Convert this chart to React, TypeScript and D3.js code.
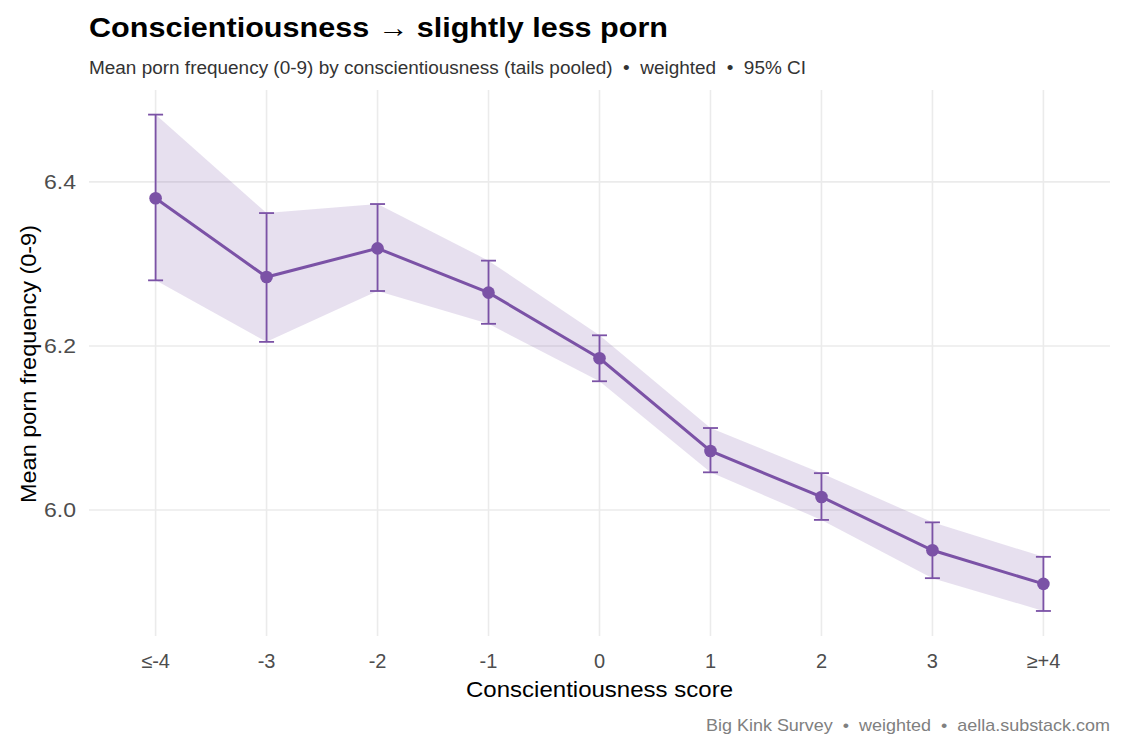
import React from "react";
import * as d3 from "d3";

const categories = ["≤-4", "-3", "-2", "-1", "0", "1", "2", "3", "≥+4"];
const means = [6.380, 6.284, 6.319, 6.265, 6.185, 6.072, 6.016, 5.951, 5.910];
const lower = [6.280, 6.205, 6.267, 6.227, 6.157, 6.046, 5.988, 5.917, 5.877];
const upper = [6.482, 6.362, 6.373, 6.304, 6.213, 6.100, 6.045, 5.985, 5.943];
const yTicks = [6.0, 6.2, 6.4];

const W = 1125, H = 750;
const PL = 89, PR = 1110, PT = 90, PB = 636;
const COLOR = "#7b52a6";
const FONT = "'Liberation Sans', Arial, sans-serif";
const pre = { whiteSpace: "pre" as const };

export default function App() {
  const x = d3.scalePoint<string>().domain(categories).range([PL, PR]).padding(0.6);
  const y = d3.scaleLinear().domain([5.8465, 6.512]).range([PB, PT]);
  const data = categories.map((c, i) => ({ c, m: means[i], lo: lower[i], hi: upper[i] }));
  const area = d3.area<any>().x(d => x(d.c)!).y0(d => y(d.lo)).y1(d => y(d.hi));
  const line = d3.line<any>().x(d => x(d.c)!).y(d => y(d.m));
  return (
    <svg width={W} height={H} style={{ position: "absolute", left: 0, top: 0, fontFamily: FONT }}>
      <rect width={W} height={H} fill="#fff" />
      {yTicks.map(t => (
        <g key={t}>
          <line x1={PL} x2={PR} y1={y(t)} y2={y(t)} stroke="#ebebeb" strokeWidth={1.6} />
          <text x={76} y={y(t)} dy="0.36em" textAnchor="end" fontSize={20} fill="#4d4d4d" textLength={32} lengthAdjust="spacingAndGlyphs">{t.toFixed(1)}</text>
        </g>
      ))}
      {categories.map(c => (
        <g key={c}>
          <line x1={x(c)} x2={x(c)} y1={PT} y2={PB} stroke="#ebebeb" strokeWidth={1.6} />
          <text x={x(c)} y={667.5} textAnchor="middle" fontSize={20} fill="#4d4d4d">{c}</text>
        </g>
      ))}
      <path d={area(data)!} fill={COLOR} fillOpacity={0.18} />
      {data.map(d => (
        <g key={d.c} stroke={COLOR} strokeWidth={1.8}>
          <line x1={x(d.c)} x2={x(d.c)} y1={y(d.lo)} y2={y(d.hi)} />
          <line x1={x(d.c)! - 7.5} x2={x(d.c)! + 7.5} y1={y(d.lo)} y2={y(d.lo)} />
          <line x1={x(d.c)! - 7.5} x2={x(d.c)! + 7.5} y1={y(d.hi)} y2={y(d.hi)} />
        </g>
      ))}
      <path d={line(data)!} fill="none" stroke={COLOR} strokeWidth={3} />
      {data.map(d => (
        <circle key={d.c} cx={x(d.c)} cy={y(d.m)} r={6.3} fill={COLOR} />
      ))}
      <text x={89} y={37} fontSize={27} fontWeight="bold" fill="#000" style={pre} textLength={579} lengthAdjust="spacingAndGlyphs">Conscientiousness → slightly less porn</text>
      <text x={89} y={74} fontSize={17.5} fill="#333" style={pre} textLength={717} lengthAdjust="spacingAndGlyphs">Mean porn frequency (0-9) by conscientiousness (tails pooled)  •  weighted  •  95% CI</text>
      <text x={466} y={697} fontSize={21.5} fill="#000" textLength={267} lengthAdjust="spacingAndGlyphs">Conscientiousness score</text>
      <text transform={`translate(36,503) rotate(-90)`} fontSize={21.5} fill="#000" textLength={278} lengthAdjust="spacingAndGlyphs">Mean porn frequency (0-9)</text>
      <text x={706} y={731} fontSize={17} fill="#808080" style={pre} textLength={404} lengthAdjust="spacingAndGlyphs">Big Kink Survey  •  weighted  •  aella.substack.com</text>
    </svg>
  );
}
